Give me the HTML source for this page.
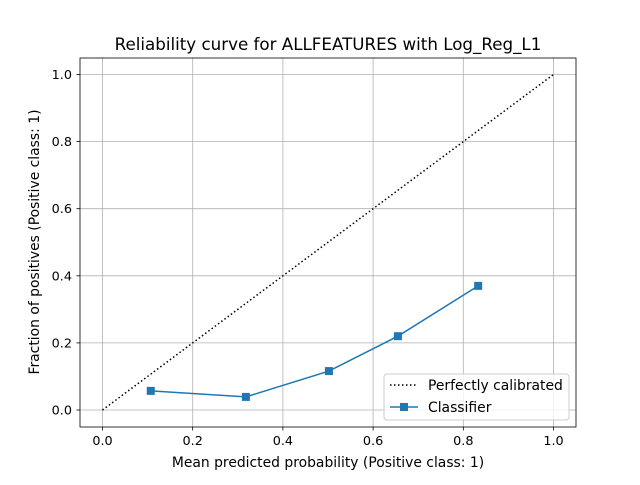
<!DOCTYPE html>
<html><head><meta charset="utf-8"><style>
body{margin:0;background:#fff;}
svg text{font-family:"DejaVu Sans","Liberation Sans",sans-serif;fill:#000;}
</style></head><body>
<svg id="chart" width="640" height="480" xmlns="http://www.w3.org/2000/svg">
<rect width="640" height="480" fill="#fff"/>
<g id="grid"></g>
<g id="ticks"></g>
<line x1="102.5" y1="410" x2="553.5" y2="74.5" stroke="#000" stroke-width="1.5" stroke-dasharray="1.5,2.5"/>
<g id="series"></g>
<rect x="80" y="58" width="496" height="369" fill="none" stroke="#000" stroke-width="0.8"/>
<text x="328" y="50" font-size="16.7" text-anchor="middle">Reliability curve for ALLFEATURES with Log_Reg_L1</text>
<text x="328" y="467" font-size="13.9" text-anchor="middle">Mean predicted probability (Positive class: 1)</text>
<text x="0" y="0" font-size="13.9" text-anchor="middle" transform="translate(39,242) rotate(-90)">Fraction of positives (Positive class: 1)</text>
<g>
<rect x="384" y="374" width="185" height="46" rx="3" fill="#fff" fill-opacity="0.8" stroke="#ccc"/>
<line x1="390" y1="385" x2="418" y2="385" stroke="#000" stroke-width="1.5" stroke-dasharray="1.5,2.5"/>
<text x="428" y="390" font-size="13.9">Perfectly calibrated</text>
<line x1="390" y1="407" x2="418" y2="407" stroke="#1f77b4" stroke-width="1.5"/>
<rect x="400" y="403" width="8" height="8" fill="#1f77b4"/>
<text x="428" y="412" font-size="13.9">Classifier</text>
</g>
</svg>
<script>
const xTicks=[0,0.2,0.4,0.6,0.8,1.0];
const yTicks=[0,0.2,0.4,0.6,0.8,1.0];
const tickLabels=["0.0","0.2","0.4","0.6","0.8","1.0"];
const meanPred=[0.107,0.318,0.502,0.655,0.833];
const fracPos=[0.057,0.039,0.116,0.22,0.37];
const NS="http://www.w3.org/2000/svg";
function sx(v){return 102.5+v*451;}
function sy(v){return 410-v*335.5;}
function mk(t,a,p){const e=document.createElementNS(NS,t);for(const k in a)e.setAttribute(k,a[k]);p.appendChild(e);return e;}
const grid=document.getElementById('grid'),ticks=document.getElementById('ticks'),ser=document.getElementById('series');
xTicks.forEach((v,i)=>{
 const g=mk('line',{x1:sx(v),x2:sx(v),y1:58,y2:427,stroke:'#b0b0b0','stroke-width':0.8},grid);
 
 
 mk('line',{x1:sx(v),x2:sx(v),y1:427,y2:430.5,stroke:'#000','stroke-width':0.8},ticks);
 const t=mk('text',{x:sx(v),y:445,'font-size':12.8,'text-anchor':'middle'},ticks);t.textContent=tickLabels[i];
 
 
});
yTicks.forEach((v,i)=>{
 const g=mk('line',{x1:80,x2:576,y1:sy(v),y2:sy(v),stroke:'#b0b0b0','stroke-width':0.8},grid);
 
 
 mk('line',{x1:76.5,x2:80,y1:sy(v),y2:sy(v),stroke:'#000','stroke-width':0.8},ticks);
 const t=mk('text',{x:72,y:sy(v)+4.5,'font-size':12.8,'text-anchor':'end'},ticks);t.textContent=tickLabels[i];
 
 
});
const pl=mk('polyline',{points:meanPred.map((v,i)=>sx(v)+','+sy(fracPos[i])).join(' '),fill:'none',stroke:'#1f77b4','stroke-width':1.5},ser);


meanPred.forEach((v,i)=>{
 const r=mk('rect',{x:sx(v)-4,y:sy(fracPos[i])-4,width:8,height:8,fill:'#1f77b4'},ser);
 
 
});
</script>
</body></html>
